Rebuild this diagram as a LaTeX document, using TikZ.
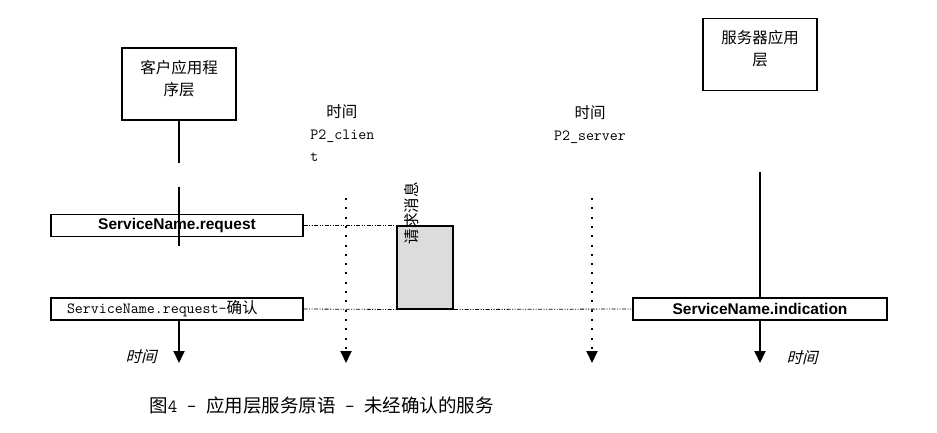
\documentclass[tikz,border=0pt]{standalone}
\usepackage{fontspec}
\setmainfont{Noto Sans CJK SC}
\newfontfamily\arialfont{Liberation Sans}
\newfontfamily\slantcjk[FakeSlant=0.25]{Noto Sans CJK SC}
\usetikzlibrary{arrows.meta}
\definecolor{msgfill}{HTML}{DCDCDC}

\begin{document}
\begin{tikzpicture}[x=1pt,y=-1pt,thick,every node/.style={font=\fontsize{15.5}{22}\selectfont},
    appbox/.style={draw,line width=1.2pt,minimum width=114pt,minimum height=72pt,align=center,text depth=13pt},
    primbox/.style={draw,line width=1.2pt,minimum width=252pt,minimum height=22pt,inner sep=0pt},
    lifeline/.style={line width=2pt},
    timeline/.style={line width=2pt,dash pattern=on 2pt off 7.3pt},
    msgline/.style={line width=0.8pt,dash pattern=on 4pt off 1.5pt on 1pt off 1.5pt on 1pt off 1.5pt},
    timearrow/.style={-{Triangle[width=11pt,length=12pt]}}]
        \useasboundingbox (0,0) rectangle (937,433);
        \node[appbox] (clientapp) at (179,84) {客户应用程\\序层};
        \node[appbox] (serverapp) at (760,54.5) {服务器应用\\层};
        \node[primbox] (req) at (177,225.5) {\arialfont\bfseries ServiceName.request};
        \node[primbox,text width=220pt,align=left,inner xsep=16pt] (reqconf) at (177,309) {{\ttfamily ServiceName.request-}确认};
        \node[primbox,minimum width=254pt] (ind) at (760,309) {\arialfont\bfseries ServiceName.indication};
        \node[draw,line width=2pt,fill=msgfill,minimum width=56pt,minimum height=83pt,inner sep=0pt] (msg) at (425,267) {};
        \node[rotate=90,inner sep=0pt] (msglabel) at (412,213) {请求消息};
        \node[align=left,anchor=north west,inner sep=0pt] (tclient) at (310,104) {\makebox[63pt]{时间}\\{\ttfamily P2\_clien}\\{\ttfamily t}};
        \node[align=center,inner sep=0pt] (tserver) at (590,125) {时间\\{\ttfamily P2\_server}};
        \node (tleft) at (141,357) {\slantcjk 时间};
        \node (tright) at (802,358) {\slantcjk 时间};
        \node[anchor=west,inner sep=0pt,font=\fontsize{18.5}{22}\selectfont] (caption) at (149,405) {图{\ttfamily 4 – }应用层服务原语{\ttfamily\ – }未经确认的服务};
        \coordinate (cl1) at (179,163);
        \coordinate (cl2) at (179,187);
        \coordinate (cl3) at (179,246);
        \coordinate (clend) at (179,363);
        \coordinate (tcstart) at (346,198);
        \coordinate (tcend) at (346,363);
        \coordinate (tsstart) at (592,198);
        \coordinate (tsend) at (592,363);
        \coordinate (sl1) at (760,172);
        \coordinate (slend) at (760,363);
        \draw[lifeline] (clientapp.south) -- (cl1);
        \draw[lifeline] (cl2) -- (cl3);
        \draw[lifeline,timearrow] (reqconf.south -| clientapp.south) -- (clend);
        \draw[timeline,timearrow] (tcstart) -- (tcend);
        \draw[timeline,timearrow] (tsstart) -- (tsend);
        \draw[lifeline] (sl1) -- (ind.north);
        \draw[lifeline,timearrow] (ind.south) -- (slend);
        \draw[msgline] (req.east) -- (req.east -| msg.west);
        \draw[msgline] (reqconf.east) -- (msg.south west);
        \draw[msgline] (msg.south east) -- (ind.west);
    \end{tikzpicture}
\end{document}
